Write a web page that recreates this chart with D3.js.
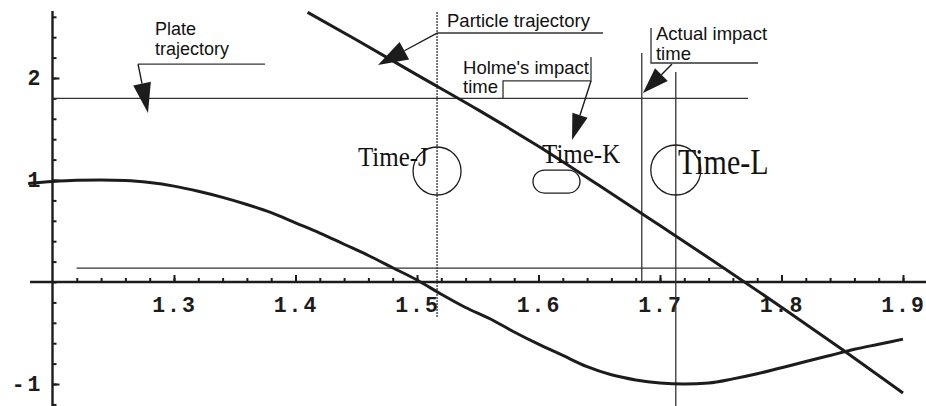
<!DOCTYPE html>
<html>
<head>
<meta charset="utf-8">
<script src="https://cdn.jsdelivr.net/npm/d3@7"></script>
<style>
  html, body { margin: 0; padding: 0; background: #fff; }
  svg { display: block; }
</style>
</head>
<body>
<svg id="chart" width="926" height="406"></svg>
<script>
// Plate displacement over time
const plateTime = [1.18, 1.20, 1.22, 1.24, 1.26, 1.28, 1.30, 1.32, 1.34, 1.36, 1.38, 1.40, 1.42, 1.44, 1.46, 1.48, 1.50,
                   1.52, 1.54, 1.56, 1.58, 1.60, 1.62, 1.64, 1.66, 1.68, 1.70, 1.72, 1.74, 1.76, 1.78, 1.80, 1.82, 1.84, 1.86, 1.88, 1.90];
const plateValue = [0.965, 0.985, 0.997, 1.0, 0.995, 0.975, 0.94, 0.89, 0.83, 0.76, 0.68, 0.58, 0.48, 0.37, 0.26, 0.14, 0.02,
                    -0.12, -0.25, -0.36, -0.49, -0.61, -0.72, -0.83, -0.91, -0.96, -0.99, -1.0, -0.99, -0.95, -0.9, -0.84, -0.78, -0.72, -0.66, -0.61, -0.56];

// Particle height over time
const particleTime = [1.41, 1.45, 1.50, 1.55, 1.60, 1.65, 1.70, 1.75, 1.80, 1.85, 1.90];
const particleValue = [2.644, 2.375, 2.031, 1.69, 1.33, 0.945, 0.553, 0.158, -0.247, -0.662, -1.088];

// Axis ticks
const xTickValues = [1.3, 1.4, 1.5, 1.6, 1.7, 1.8, 1.9];
const xMinorTicks = d3.range(1.22, 1.9001, 0.02);
const yTickValues = [2, 1, -1];
const yMinorTicks = d3.range(-1.2, 2.601, 0.2);

// Reference levels and marked instants
const upperLevel = 1.8;
const lowerLevel = 0.137;
const timeJ = 1.5165;     // Time-J
const holmeTime = 1.685;  // Holme's impact time
const actualTime = 1.713; // actual impact time / Time-L
const timeK = 1.6148;

const svg = d3.select("#chart");
const W = 926, H = 406;

const x = d3.scaleLinear().domain([1.2, 1.9]).range([52.5, 903]);
const y = d3.scaleLinear().domain([0, 1]).range([282, 180]);

const ink = "#1c1c1c";
const thin = "#333";

// ---- axes ----
const xAxisY = y(0), yAxisX = x(1.2);

svg.append("line")
  .attr("x1", x(1.1815)).attr("x2", W)
  .attr("y1", xAxisY).attr("y2", xAxisY)
  .attr("stroke", ink).attr("stroke-width", 2.4);
svg.append("line")
  .attr("x1", yAxisX).attr("x2", yAxisX)
  .attr("y1", y(2.657)).attr("y2", H)
  .attr("stroke", ink).attr("stroke-width", 2.4);

const tickFont = "'Liberation Mono', 'DejaVu Sans Mono', monospace";

const xMinor = svg.append("g").attr("transform", `translate(0,${xAxisY})`)
  .call(d3.axisBottom(x).tickValues(xMinorTicks).tickSize(-4).tickFormat(""));
const xMajor = svg.append("g").attr("transform", `translate(0,${xAxisY})`)
  .call(d3.axisBottom(x).tickValues(xTickValues).tickSize(-7).tickPadding(15).tickFormat(d3.format(".1f")));

const yMinor = svg.append("g").attr("transform", `translate(${yAxisX},0)`)
  .call(d3.axisLeft(y).tickValues(yMinorTicks).tickSize(-4).tickFormat(""));
const yMajor = svg.append("g").attr("transform", `translate(${yAxisX},0)`)
  .call(d3.axisLeft(y).tickValues(yTickValues).tickSize(-7).tickPadding(9).tickFormat(d3.format("d")));

[xMinor, xMajor, yMinor, yMajor].forEach(g => {
  g.select(".domain").remove();
  g.selectAll(".tick line").attr("stroke", ink).attr("stroke-width", 2);
  g.selectAll("text")
    .attr("fill", ink)
    .style("font-family", tickFont)
    .style("font-weight", "bold")
    .style("font-size", "21.5px")
    .style("letter-spacing", "2px");
});
yMajor.selectAll("text").style("letter-spacing", "3px").text(d => d < 0 ? "-" + Math.abs(d) : d);

// ---- reference lines ----
svg.append("line")
  .attr("x1", x(1.2)).attr("x2", x(1.7724))
  .attr("y1", y(upperLevel)).attr("y2", y(upperLevel))
  .attr("stroke", thin).attr("stroke-width", 1.3);
svg.append("line")
  .attr("x1", x(1.2198)).attr("x2", x(1.7535))
  .attr("y1", y(lowerLevel)).attr("y2", y(lowerLevel))
  .attr("stroke", thin).attr("stroke-width", 1.3);

const verticals = [
  { t: timeJ, v0: 2.647, v1: -0.353, dash: "2,1" },
  { t: holmeTime, v0: 2.245, v1: 0, dash: null },
  { t: actualTime, v0: 2.059, v1: -1.216, dash: null }
];
verticals.forEach(d => {
  svg.append("line")
    .attr("x1", x(d.t)).attr("x2", x(d.t))
    .attr("y1", y(d.v0)).attr("y2", y(d.v1))
    .attr("stroke", thin).attr("stroke-width", 1.3)
    .attr("stroke-dasharray", d.dash);
});

// ---- curves ----
const plateLine = d3.line().x((d, i) => x(plateTime[i])).y(d => y(d)).curve(d3.curveMonotoneX);
const particleLine = d3.line().x((d, i) => x(particleTime[i])).y(d => y(d)).curve(d3.curveMonotoneX);

svg.append("path").attr("d", plateLine(plateValue))
  .attr("fill", "none").attr("stroke", ink).attr("stroke-width", 3);
svg.append("path").attr("d", particleLine(particleValue))
  .attr("fill", "none").attr("stroke", ink).attr("stroke-width", 3);

// ---- time markers ----
const serif = "'Liberation Serif', 'Times New Roman', serif";

svg.append("circle").attr("cx", x(timeJ)).attr("cy", y(1.088)).attr("r", 24)
  .attr("fill", "none").attr("stroke", ink).attr("stroke-width", 1.3);
svg.append("circle").attr("cx", x(actualTime)).attr("cy", y(1.098)).attr("r", 25)
  .attr("fill", "none").attr("stroke", ink).attr("stroke-width", 1.3);
svg.append("rect")
  .attr("x", x(timeK) - 23.5).attr("y", y(0.985) - 11.5)
  .attr("width", 47).attr("height", 23).attr("rx", 11.5)
  .attr("fill", "none").attr("stroke", ink).attr("stroke-width", 1.3);

function stretchedText(tx, ty, str, size, sy) {
  svg.append("text")
    .attr("transform", `translate(${tx},${ty}) scale(1,${sy})`)
    .attr("fill", "#111")
    .style("font-family", serif)
    .style("font-size", size + "px")
    .text(str);
}
stretchedText(x(1.4514), y(1.137), "Time-J", 25, 1.08);
stretchedText(x(1.6029), y(1.167), "Time-K", 25, 1.08);
stretchedText(x(1.7148), y(1.059), "Time-L", 30, 1.2);

// ---- callouts ----
const sans = "'Liberation Sans', Arial, sans-serif";

function calloutText(t, v, lines, lineGap, size) {
  const tx = svg.append("text")
    .attr("x", x(t)).attr("y", y(v))
    .attr("fill", "#111")
    .style("font-family", sans)
    .style("font-size", (size || 18.5) + "px");
  lines.forEach((s, i) => {
    tx.append("tspan").attr("x", x(t)).attr("dy", i === 0 ? 0 : lineGap).text(s);
  });
}
function polyline(pts, dash) {
  svg.append("path")
    .attr("d", d3.line()(pts.map(p => [x(p[0]), y(p[1])])))
    .attr("fill", "none").attr("stroke", thin).attr("stroke-width", 1.3)
    .attr("stroke-dasharray", dash || null);
}
function arrow(from, to, len, half) {
  const x1 = x(from[0]), y1 = y(from[1]), x2 = x(to[0]), y2 = y(to[1]);
  const dx = x2 - x1, dy = y2 - y1, n = Math.hypot(dx, dy);
  const ux = dx / n, uy = dy / n;
  const bx = x2 - ux * len, by = y2 - uy * len;
  svg.append("line").attr("x1", x1).attr("y1", y1).attr("x2", bx).attr("y2", by)
    .attr("stroke", ink).attr("stroke-width", 1.4);
  svg.append("path")
    .attr("d", `M${x2},${y2}L${bx - uy * half},${by + ux * half}L${bx + uy * half},${by - ux * half}Z`)
    .attr("fill", ink);
}

// Plate trajectory
calloutText(1.2844, 2.42, ["Plate", "trajectory"], 19.5, 18);
polyline([[1.3749, 2.137], [1.2704, 2.137]]);
arrow([1.2704, 2.137], [1.2786, 1.657], 30, 9);

// Particle trajectory
calloutText(1.5247, 2.5, ["Particle trajectory"], 0);
polyline([[1.6531, 2.441], [1.5165, 2.441]]);
arrow([1.5165, 2.441], [1.4679, 2.127], 30, 10);

// Holme's impact time
calloutText(1.5379, 2.039, ["Holme's impact", "time"], 19);
polyline([[1.6432, 2.206], [1.6432, 1.971], [1.5708, 1.971], [1.5708, 1.8]]);
arrow([1.6432, 1.971], [1.6276, 1.392], 26, 8);

// Actual impact time
calloutText(1.6967, 2.373, ["Actual impact", "time"], 20);
polyline([[1.6926, 2.490], [1.6926, 2.147], [1.7807, 2.147]]);
arrow([1.7099, 2.137], [1.686, 1.853], 26, 9);
</script>
</body>
</html>
